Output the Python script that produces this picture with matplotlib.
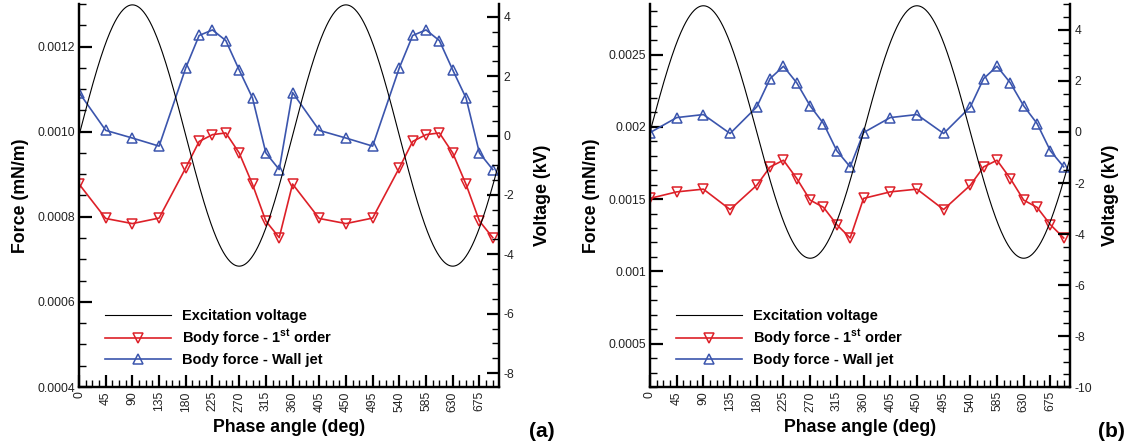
import numpy as np
import matplotlib
matplotlib.use("Agg")
import matplotlib.pyplot as plt
from matplotlib.ticker import MultipleLocator, FormatStrFormatter
from matplotlib.lines import Line2D

plt.rcParams["font.family"] = ["Liberation Sans", "DejaVu Sans"]
plt.rcParams["mathtext.fontset"] = "custom"
plt.rcParams["mathtext.bf"] = "Liberation Sans:bold"
plt.rcParams["mathtext.rm"] = "Liberation Sans"
plt.rcParams["axes.unicode_minus"] = False

# ---------- data ----------
phase = [0, 45, 90, 135, 180, 202.5, 225, 247.5, 270, 292.5, 315, 337.5,
         360, 405, 450, 495, 540, 562.5, 585, 607.5, 630, 652.5, 675, 697.5]

# panel (a)
first_a = [0.000877, 0.000796, 0.000784, 0.000797, 0.000915, 0.000977,
           0.000993, 0.000997, 0.000950, 0.000876, 0.000790, 0.000751] * 2
jet_a = [0.001092, 0.001003, 0.000985, 0.000966, 0.001150, 0.001226,
         0.001239, 0.001214, 0.001145, 0.001079, 0.000950, 0.000911] * 2
volt_amp_a = 4.4  # kV

# panel (b)
first_b = [0.001505, 0.001550, 0.001569, 0.001428, 0.001596, 0.001723,
           0.001769, 0.001642, 0.001493, 0.001443, 0.001323, 0.001231] * 2
jet_b = [0.001960, 0.002064, 0.002085, 0.001954, 0.002138, 0.002334,
         0.002419, 0.002304, 0.002145, 0.002023, 0.001834, 0.001723] * 2
volt_amp_b = 4.95  # kV

xticks = list(range(0, 700, 45))

RED = "#dd2028"
BLUE = "#3b55ad"
XMAX = 708


def panel(rect, first, jet, vamp, ylim, ymaj, ymin, yfmt, vlim, tag, tagx, rpad):
    ax = fig.add_axes(rect)
    ax2 = ax.twinx()
    ph = np.linspace(0, XMAX, 600)
    ax2.plot(ph, vamp * np.sin(np.radians(ph)), color="black", lw=0.8)
    ax.plot(phase, first, color=RED, lw=1.2, marker="v", ms=6.5,
            mfc="none", mec=RED, mew=1.1)
    ax.plot(phase, jet, color=BLUE, lw=1.2, marker="^", ms=6.5,
            mfc="none", mec=BLUE, mew=1.1)
    ax.set_xlim(0, XMAX)
    ax.set_ylim(*ylim)
    ax2.set_ylim(*vlim)
    ax.set_xticks(xticks)
    ax.xaxis.set_minor_locator(MultipleLocator(11.25))
    ax.yaxis.set_major_locator(MultipleLocator(ymaj))
    ax.yaxis.set_minor_locator(MultipleLocator(ymin))
    ax.yaxis.set_major_formatter(FormatStrFormatter(yfmt))
    ax2.yaxis.set_major_locator(MultipleLocator(2))
    ax2.yaxis.set_minor_locator(MultipleLocator(0.5))
    for a in (ax, ax2):
        a.spines["top"].set_visible(False)
        for s in a.spines.values():
            s.set_linewidth(1.6)
        a.tick_params(which="major", direction="in", length=9, width=1.6,
                      labelsize=8.7, colors="black", labelcolor="#222222")
        a.tick_params(which="minor", direction="in", length=5, width=1.0)
    ax.tick_params(axis="x", labelrotation=90, pad=3)
    ax.tick_params(axis="y", pad=3)
    ax.set_xlabel("Phase angle (deg)", fontsize=12.8, fontweight="bold", labelpad=5)
    ax.set_ylabel("Force (mN/m)", fontsize=12.8, fontweight="bold", labelpad=6)
    ax2.set_ylabel("Voltage (kV)", fontsize=12.8, fontweight="bold", labelpad=rpad)
    handles = [
        Line2D([], [], color="black", lw=0.8),
        Line2D([], [], color=RED, lw=1.2, marker="v", ms=6.5, mfc="none", mew=1.1),
        Line2D([], [], color=BLUE, lw=1.2, marker="^", ms=6.5, mfc="none", mew=1.1),
    ]
    labels = ["Excitation voltage", r"Body force - 1$^{\mathbf{st}}$ order",
              "Body force - Wall jet"]
    ax2.legend(handles, labels, loc="lower left", bbox_to_anchor=(0.062, 0.052),
               frameon=False, borderpad=0, borderaxespad=0, handlelength=4.5,
               handletextpad=0.75, labelspacing=0.3, numpoints=1,
               prop={"weight": "bold", "size": 10.5})
    fig.text(tagx, 0.023, tag, fontsize=15, fontweight="bold",
             ha="left", va="center")
    return ax, ax2


fig = plt.figure(figsize=(11.32, 4.42), dpi=100)
panel([0.0698, 0.1244, 0.371, 0.8666], first_a, jet_a, volt_amp_a,
      (0.0004, 0.0013), 0.0002, 0.00005, "%.4f", (-8.47, 4.43), "(a)", 0.467, 14)
panel([0.5742, 0.1244, 0.371, 0.8666], first_b, jet_b, volt_amp_b,
      (0.0002, 0.00285), 0.0005, 0.0001, "%g", (-10, 5.02), "(b)", 0.970, 7)

fig.savefig("out.png", dpi=100)
